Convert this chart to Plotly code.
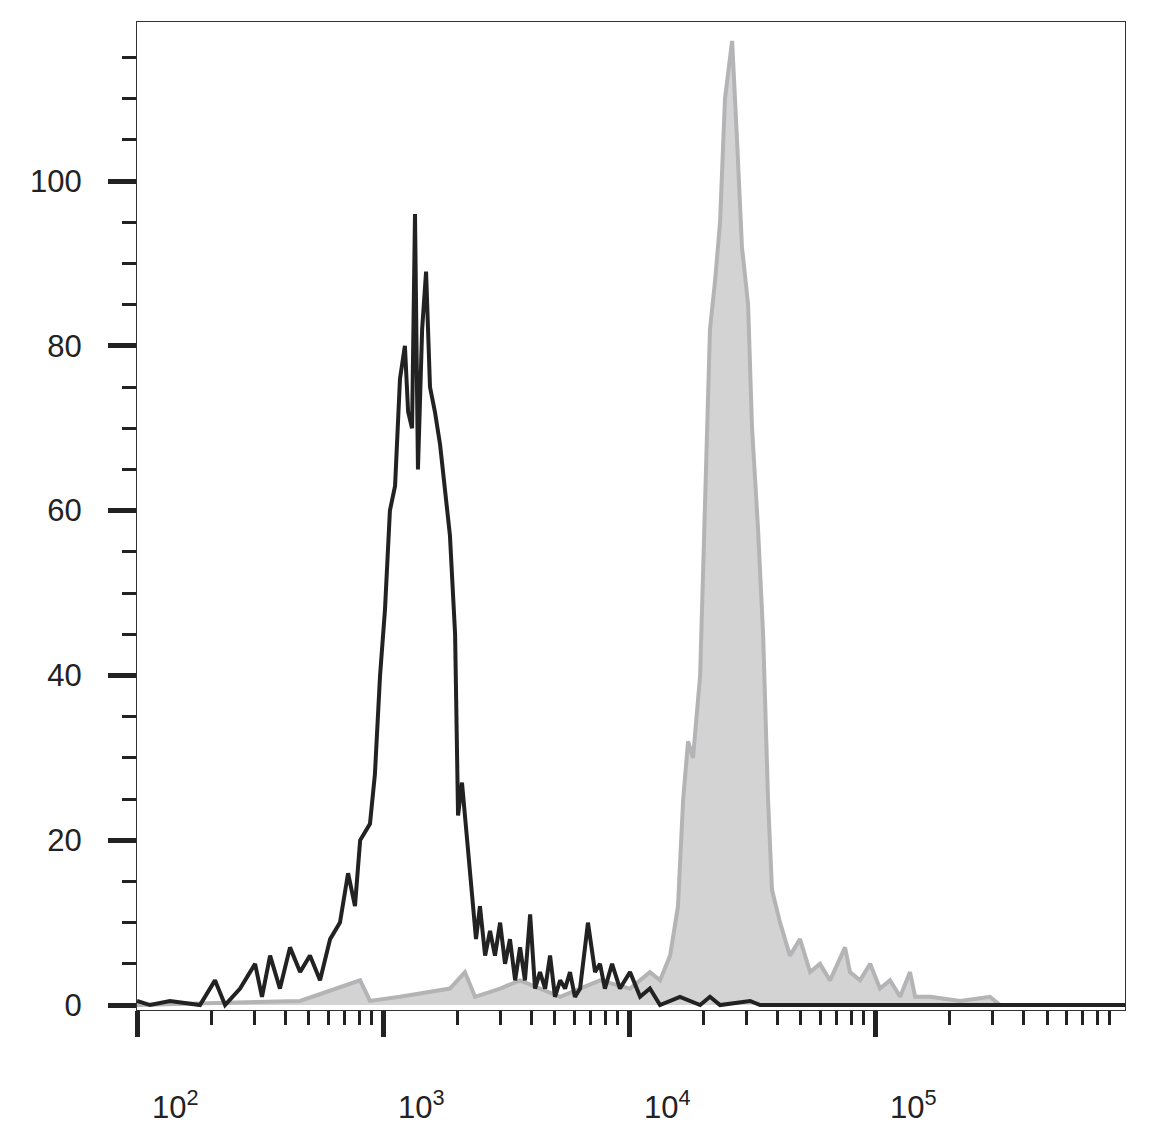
import math
import plotly.graph_objects as go

# log10 fluorescence intensity and event counts
black_log = [2.000,2.053,2.134,2.256,2.317,2.358,2.419,2.480,2.508,2.541,2.581,2.622,2.663,2.703,2.744,2.785,2.825,2.858,2.886,2.907,2.947,2.967,2.988,3.008,3.028,3.049,3.069,3.089,3.102,3.118,3.130,3.142,3.159,3.175,3.191,3.211,3.232,3.252,3.272,3.293,3.305,3.321,3.341,3.362,3.378,3.394,3.415,3.435,3.455,3.476,3.496,3.516,3.537,3.557,3.577,3.598,3.618,3.638,3.659,3.679,3.699,3.720,3.740,3.760,3.780,3.801,3.833,3.862,3.882,3.902,3.931,3.963,4.004,4.045,4.085,4.126,4.207,4.289,4.329,4.370,4.492,4.533,6.016]
black_cnt = [0.5,0,0.5,0,3,0,2,5,1,6,2,7,4,6,3,8,10,16,12,20,22,28,40,48,60,63,76,80,72,70,96,65,82,89,75,72,68,62,57,45,23,27,20,13,8,12,6,9,6,10,5,8,3,7,3,11,2,4,2,6,1,3,2,4,1,2,10,4,5,2,5,2,4,1,2,0,1,0,1,0,0.5,0,0]
grey_log = [2.000,2.663,2.907,2.947,3.069,3.272,3.333,3.374,3.476,3.557,3.720,3.882,4.004,4.085,4.126,4.167,4.199,4.220,4.240,4.260,4.289,4.309,4.329,4.350,4.370,4.390,4.419,4.439,4.459,4.484,4.500,4.524,4.545,4.565,4.581,4.614,4.654,4.695,4.736,4.776,4.817,4.878,4.898,4.939,4.980,5.020,5.061,5.102,5.142,5.163,5.224,5.346,5.467,5.508,6.016]
grey_cnt = [0,0.5,3,0.5,1,2,4,1,2,3,1,3,2,4,3,6,12,25,32,30,40,60,82,88,95,110,117,105,92,85,70,58,45,25,14,10,6,8,4,5,3,7,4,3,5,2,3,1,4,1,1,0.5,1,0,0]
major_vals = [100, 1000, 10000, 100000]
major_exp = ["2", "3", "4", "5"]
minor_vals = [m * 10**e for e in range(2, 6) for m in range(2, 10)]

font = dict(family="Liberation Sans, Arial", size=31, color="#222")
fig = go.Figure()
fig.add_trace(go.Scatter(x=[10**v for v in grey_log], y=grey_cnt, mode="lines",
                         line=dict(color="#b4b4b6", width=4), fill="tozeroy",
                         fillcolor="#d3d3d4"))
fig.add_trace(go.Scatter(x=[10**v for v in black_log], y=black_cnt, mode="lines",
                         line=dict(color="#222222", width=4)))
fig.add_trace(go.Scatter(x=[1000], y=[0], xaxis="x2", mode="markers",
                         marker=dict(opacity=0), hoverinfo="skip"))
rng = [2, 6.016]
fig.update_layout(
    width=1136, height=1119, showlegend=False,
    paper_bgcolor="white", plot_bgcolor="white",
    margin=dict(l=129, r=19, t=14, b=117, autoexpand=False),
    xaxis=dict(type="log", range=rng, tickvals=major_vals, ticktext=[""]*4,
               ticks="outside", ticklen=26, tickwidth=5, tickcolor="#222",
               automargin=False,
               showgrid=False, zeroline=False, showline=True, linecolor="#333",
               linewidth=1, mirror=True),
    xaxis2=dict(type="log", range=rng, overlaying="x", side="bottom", anchor="y",
                tickvals=minor_vals, showticklabels=False, ticks="outside",
                ticklen=14, tickwidth=3, tickcolor="#222", showgrid=False,
                automargin=False, zeroline=False, showline=False),
    yaxis=dict(range=[-0.6, 119.3], tickvals=[0, 20, 40, 60, 80, 100],
               ticks="outside", ticklen=28, tickwidth=5, tickcolor="#222",
               ticklabelstandoff=20,
               minor=dict(dtick=5, ticks="outside", ticklen=14, tickwidth=3,
                          tickcolor="#222"),
               automargin=False,
               tickfont=font, showgrid=False, zeroline=False, showline=True,
               linecolor="#333", linewidth=1, mirror=True),
)
for v, e in zip(major_vals, major_exp):
    fig.add_annotation(x=math.log10(v), y=0, xref="x", yref="paper",
                       text="10<sup>" + e + "</sup>",
                       showarrow=False, font=font, xshift=38, yshift=-95,
                       xanchor="center", yanchor="middle")
fig.write_html("out.html")
